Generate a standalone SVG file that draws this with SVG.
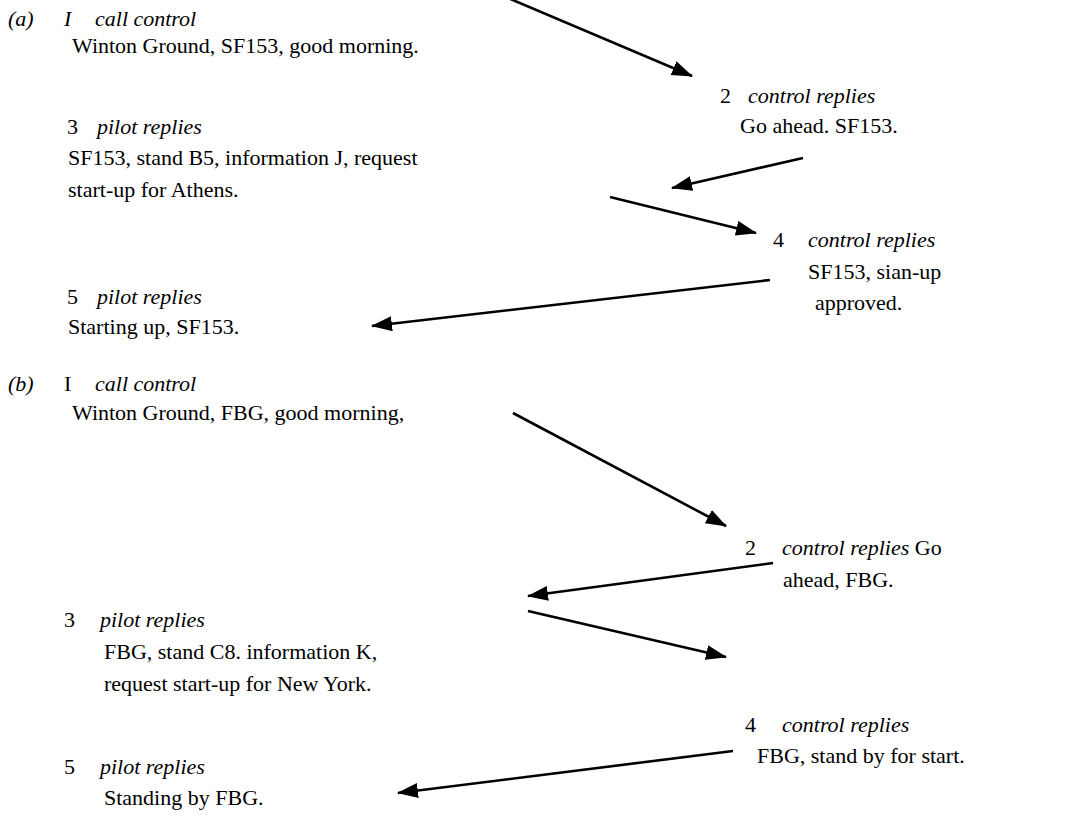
<svg xmlns="http://www.w3.org/2000/svg" width="1081" height="820" viewBox="0 0 1081 820">
<defs>
<style>
text{font-family:"Liberation Serif","Times New Roman","DejaVu Serif",serif;font-size:22px;fill:#000}
.i{font-style:italic}
.c line{stroke:#000;stroke-width:2.6;marker-end:url(#ah)}
</style>
<marker id="ah" markerUnits="userSpaceOnUse" markerWidth="22" markerHeight="16" refX="20" refY="7.5" orient="auto" viewBox="0 0 22 16">
<path d="M0,0 L21,7.5 L0,15 z" fill="#000"/>
</marker>
</defs>
<rect width="1081" height="820" fill="#fff"/>
<g id="a1">
<text x="8" y="26" class="i">(a)</text>
<text x="64" y="26" class="i">I</text>
<text x="95" y="26" class="i">call control</text>
<text x="72" y="53">Winton Ground, SF153, good morning.</text>
</g>
<g id="a2">
<text x="720" y="103">2</text>
<text x="748" y="103" class="i">control replies</text>
<text x="740" y="133">Go ahead. SF153.</text>
</g>
<g id="a3">
<text x="67" y="134">3</text>
<text x="97" y="134" class="i">pilot replies</text>
<text x="68" y="165">SF153, stand B5, information J, request</text>
<text x="68" y="197">start-up for Athens.</text>
</g>
<g id="a4">
<text x="773" y="247">4</text>
<text x="808" y="247" class="i">control replies</text>
<text x="808" y="279">SF153, sian-up</text>
<text x="815" y="310">approved.</text>
</g>
<g id="a5">
<text x="67" y="304">5</text>
<text x="97" y="304" class="i">pilot replies</text>
<text x="68" y="334">Starting up, SF153.</text>
</g>
<g id="b1">
<text x="8" y="391" class="i">(b)</text>
<text x="64" y="391">I</text>
<text x="95" y="391" class="i">call control</text>
<text x="72" y="420">Winton Ground, FBG, good morning,</text>
</g>
<g id="b2">
<text x="745" y="555">2</text>
<text x="782" y="555"><tspan class="i">control replies</tspan> Go</text>
<text x="783" y="587">ahead, FBG.</text>
</g>
<g id="b3">
<text x="64" y="627">3</text>
<text x="100" y="627" class="i">pilot replies</text>
<text x="104" y="659">FBG, stand C8. information K,</text>
<text x="104" y="691">request start-up for New York.</text>
</g>
<g id="b4">
<text x="745" y="732">4</text>
<text x="782" y="732" class="i">control replies</text>
<text x="757" y="763">FBG, stand by for start.</text>
</g>
<g id="b5">
<text x="64" y="774">5</text>
<text x="100" y="774" class="i">pilot replies</text>
<text x="104" y="805">Standing by FBG.</text>
</g>
<g class="c" id="connectors">
<line x1="508" y1="-2" x2="692" y2="76"/>
<line x1="803" y1="158" x2="672" y2="188"/>
<line x1="610" y1="197" x2="756" y2="233"/>
<line x1="770" y1="280" x2="372" y2="326"/>
<line x1="513" y1="413" x2="726" y2="526"/>
<line x1="773" y1="563" x2="528" y2="596"/>
<line x1="528" y1="611" x2="726" y2="657"/>
<line x1="733" y1="751" x2="398" y2="793"/>
</g>
</svg>
